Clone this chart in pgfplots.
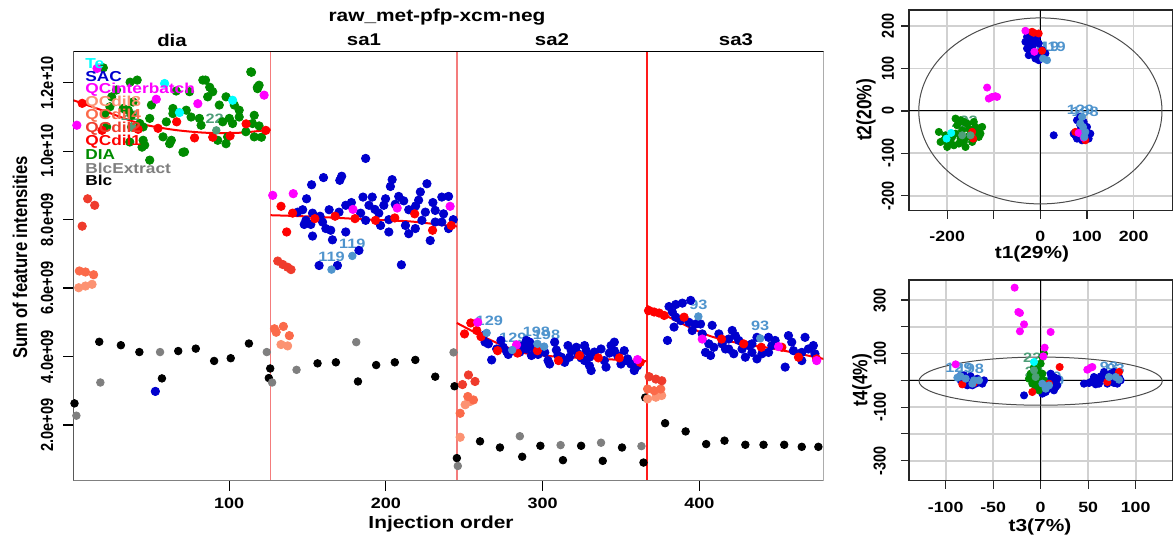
\documentclass[border=0pt]{standalone}
\usepackage{pgfplots}
\pgfplotsset{compat=1.18}
\usepackage{fontspec}
\setmainfont{Liberation Sans}
\definecolor{cTe}{HTML}{00FFFF}
\definecolor{cSAC}{HTML}{0000CD}
\definecolor{cQCi}{HTML}{FF00FF}
\definecolor{cQCe}{HTML}{FC9272}
\definecolor{cQCf}{HTML}{FB6A4A}
\definecolor{cQCb}{HTML}{EF3B2C}
\definecolor{cQCa}{HTML}{FF0000}
\definecolor{cDIA}{HTML}{008B00}
\definecolor{cBlcE}{HTML}{7F7F7F}
\definecolor{cLab}{HTML}{4F94CD}
\definecolor{cLabG}{HTML}{4E9E78}
\definecolor{cSep}{HTML}{F47C7C}
\definecolor{cSepB}{HTML}{FF1A1A}
\newcommand{\sx}[1]{\scalebox{1.2}[1]{#1}}
\newcommand{\sy}[1]{\scalebox{1}[1.2]{#1}}
\newcommand{\fs}[1]{\fontsize{#1}{#1}\selectfont\bfseries}
\pgfplotsset{
  pt/.style={only marks, mark=*, mark size=2.1pt, color=#1},
  ps/.style={only marks, mark=*, mark size=1.8pt, color=#1},
}
\begin{document}
\begin{tikzpicture}
\useasboundingbox (0,0) rectangle (587.5pt,269.5pt);
% ================= MAIN =================
\begin{axis}[at={(36.7pt,29.15pt)}, anchor=south west, scale only axis,
  width=375.15pt, height=214.5pt,
  xmin=0.6, xmax=479.4, ymin=0.37, ymax=12.91,
  axis line style={draw=none},
  tick pos=left, tick align=outside, major tick length=5pt,
  tick style={black, line width=0.6pt},
  xtick={100,200,300,400},
  xticklabels={\sx{100},\sx{200},\sx{300},\sx{400}},
  ytick={2,4,6,8,10,12},
  yticklabels={\sy{2.0e+09},\sy{4.0e+09},\sy{6.0e+09},\sy{8.0e+09},\sy{1.0e+10},\sy{1.2e+10}},
  xticklabel style={font=\fs{7.5}},
  yticklabel style={font=\fs{7.3}, rotate=90, anchor=south},
  yticklabel shift=1.5pt,
]
% separators (drawn first, under the points)
\addplot[color=cSep, line width=0.8pt] coordinates {(126.5,0.37)(126.5,12.91)};
\addplot[color=cSep, line width=0.8pt] coordinates {(245.3,0.37)(245.3,12.91)};
\addplot[color=cSepB, line width=1.1pt] coordinates {(366.4,0.37)(366.4,12.91)};
% Blc
\addplot[pt=black, mark size=1.9pt] coordinates {
(1.3,2.63)(17.1,4.43)(30.9,4.33)(42.7,4.13)(57.1,3.36)(67.5,4.16)(78.7,4.23)(90.4,3.87)(101,3.95)(112.6,4.38)(126.2,3.65)(125.3,3.37)
(156.4,3.80)(168.1,3.83)(182.2,3.27)(193.8,3.75)(205.7,3.83)(218.8,3.90)(231.5,3.41)(243.8,3.13)
(245.3,1.03)(260.1,1.52)(272.8,1.34)(287,1.07)(298.6,1.39)(313,0.97)(324.6,1.39)(338.4,0.95)(350.7,1.34)(364.4,0.90)(365.5,2.80)
(378.2,2.05)(391.3,1.81)(404.4,1.44)(416.1,1.54)(429.4,1.42)(441.0,1.42)(454.2,1.42)(465.4,1.36)(476,1.36)};
% BlcExtract
\addplot[pt=cBlcE, mark size=1.9pt] coordinates {
(2.5,2.27)(17.8,3.24)(55.9,4.13)(124,4.13)(127.4,3.24)(143,3.61)(181.1,4.42)(243.2,4.12)(245.9,0.80)(285.5,1.67)(311.5,1.41)(337.3,1.48)(363.1,1.38)};
% QCdil8
\addplot[pt=cQCe] coordinates {
(4.0,6.01)(8.3,6.06)(12.5,6.11)(133.1,4.35)(137.3,4.31)(250.6,2.59)(253.5,2.68)(247.4,1.64)(367,2.76)(372.3,2.81)(376,2.86)};
% QCdil4
\addplot[pt=cQCf] coordinates {
(4.4,6.50)(8.3,6.47)(13.5,6.39)(128.9,4.81)(130,4.71)(134.6,4.88)(138.4,4.61)(252.3,2.83)(255.9,2.73)(247.4,2.34)(367,3.05)(371.2,3.0)(375.4,3.05)};
% QCdil2
\addplot[pt=cQCb] coordinates {
(6.2,7.81)(9.7,8.61)(14.2,8.42)(131,6.79)(134.2,6.69)(137.3,6.61)(139.5,6.54)(252.7,3.46)(256.9,3.27)(248.9,3.18)(368,3.41)(372.3,3.34)(376.1,3.29)};
% DIA
\addplot[pt=cDIA] coordinates {
(19.7,12.44)(113.8,12.32)(84.9,12.08)(119.1,11.93)(118.1,11.83)(89.5,11.74)(86.3,11.59)(98.0,11.59)(66.2,11.76)(74.7,11.74)(28.1,11.79)(25.0,11.59)(38.7,11.44)(23.9,11.30)(50.4,11.35)(64.1,11.25)(72.6,11.20)(64.1,11.10)(75.7,11.00)(81.0,10.96)(93.7,11.35)(103.3,11.35)(106.4,11.20)(116.0,11.05)(106.4,11.00)(100.1,10.96)(49.3,10.96)(59.9,10.86)(37.7,11.05)(45.1,10.71)(37.7,10.71)(43.0,10.81)(82.1,10.76)(95.9,10.86)(102.2,10.81)(114.9,10.81)(119.1,10.74)(92.7,10.32)(98.0,10.22)(99.0,10.42)(57.8,10.42)(63.1,10.32)(62.0,10.22)(45.1,10.32)(46.1,10.18)(71.5,9.98)(49.3,9.74)(116.0,10.42)(110.7,10.57)(36.6,10.27)(21.8,10.71)(32.4,11.25)(20.7,11.10)(36.8,12.02)(41.3,12.08)(35.6,11.2)(83.2,12.08)(87.6,11.87)(70.5,9.97)(44.4,10.12)(114.3,12.31)(118,11.87)(120.6,10.41)};
% SAC
\addplot[pt=cSAC] coordinates {
(52.9,2.98)
(187.1,9.79)(160.2,9.23)(152.6,9.02)(171.8,9.27)(170.6,9.15)(204.0,9.17)(202.9,8.97)(226.2,9.05)(222.0,8.81)(149.4,8.61)(185.4,8.66)(191.3,8.66)(199.8,8.61)(208.2,8.68)(211.4,8.55)(220.9,8.57)(235.7,8.66)(240.0,8.68)(189.2,8.42)(198.7,8.42)(174.4,8.42)(163.8,8.29)(146.9,8.29)(143.7,8.22)(170.1,8.22)(183.9,8.19)(195.5,8.19)(214.6,8.29)(225.2,8.22)(231.5,8.27)(236.8,8.17)(153.2,8.19)(149.0,7.98)(147.9,7.86)(152.1,7.86)(159.6,7.93)(161.7,7.74)(164.8,7.69)(187.1,7.98)(196.6,7.83)(201.9,8.00)(212.5,7.83)(214.6,7.59)(218.8,7.74)(223.0,7.98)(231.5,7.93)(235.7,7.93)(240.0,7.74)(201.9,7.64)(174.4,7.64)(153.2,7.52)(165.9,7.41)(228.3,7.39)(182.8,7.10)(157.4,6.66)(169.1,6.66)(209.9,6.68)(178,8.5)(206,8.45)(230,8.5)(158,8.1)(243,8.0)(219,8.4)(193,8.3)
(262.2,4.61)(265.4,4.37)(263.3,4.42)(267.5,3.90)(270.7,4.22)(274.9,4.27)(278.1,4.06)(281.3,4.17)(285.5,4.13)(287.6,4.32)(289.7,4.47)(291.8,4.42)(294.0,4.27)(297.1,4.06)(301.4,4.12)(303.5,3.88)(304.5,3.78)(307.7,4.42)(308.8,4.19)(312.0,3.98)(316.2,4.32)(318.3,4.17)(321.5,4.27)(322.5,4.08)(326.8,4.32)(327.8,4.17)(329.9,3.73)(331.0,3.59)(333.1,4.13)(337.3,4.22)(339.4,3.88)(340.5,3.69)(343.7,4.32)(345.8,4.42)(347.9,4.03)(350.0,3.78)(352.1,4.17)(354.3,3.93)(356.4,3.78)(358.5,3.59)(360.6,3.73)(326.8,3.88)(314.1,3.83)(317.2,3.98)(345.8,4.17)(353.2,3.88)(273.4,4.47)(277.0,4.15)(292.9,4.03)(289.7,4.22)(309.8,4.03)(329.9,3.98)(342.6,4.10)(324.6,3.96)
(380.7,5.46)(385.0,5.52)(389.2,5.56)(394.5,5.64)(382.8,5.30)(385.0,5.15)(383.9,4.86)(388.1,5.05)(393.4,5.00)(397.7,4.95)(400.8,4.95)(379.7,4.47)(395.5,4.76)(401.9,4.66)(408.2,4.91)(412.5,4.66)(406.1,4.37)(409.3,4.27)(404.0,4.12)(407.2,4.03)(414.6,4.37)(418.8,4.51)(421.0,4.76)(423.0,4.61)(418.8,4.22)(422.0,4.08)(427.3,4.22)(431.5,4.32)(429.4,3.98)(433.6,4.12)(436.8,3.93)(440.0,4.08)(444.2,4.12)(446.3,4.32)(448.4,4.47)(456.9,4.61)(459.0,4.42)(467.5,4.56)(460.1,4.17)(465.4,4.12)(469.6,4.22)(472.8,4.32)(454.8,3.69)(465.4,3.88)(473.8,4.08)(416.7,4.22)(425.2,4.47)(433.6,4.37)(436.8,4.56)(444.2,4.56)};
% Te
\addplot[pt=cTe] coordinates {(58.8,11.98)(102.2,11.49)(68.3,11.13)};
% QCdil1
\addplot[pt=cQCa] coordinates {
(6.2,11.40)(18.9,10.61)(41.9,10.64)(54.6,10.67)(66.5,10.86)(77.9,10.39)(89.5,10.41)(100.6,10.45)(110.8,10.80)(123.4,10.61)
(133.1,8.39)(140.5,8.19)(136.7,7.64)(154.7,8.03)(167.6,8.10)(180.3,8.03)(193.4,7.98)(205.7,8.05)(218.4,8.17)(229.8,7.69)(241.7,7.83)
(254.2,4.98)(250.2,4.66)(258.0,4.76)(260.7,4.58)(271.3,4.17)(284.0,4.10)(296.7,4.17)(310.2,3.88)(323.6,4.03)(335.6,3.96)(349.0,3.96)(362.3,3.83)
(367.6,5.34)(371.2,5.30)(374.4,5.27)(377.6,5.20)(390.3,5.15)(414.2,4.51)(428.3,4.37)(439.6,4.27)(452.7,4.27)(463.3,3.98)(474.9,3.93)};
% QCinterbatch
\addplot[pt=cQCi] coordinates {
(2.8,10.76)(15.7,12.42)(53.5,11.52)(80.0,11.39)(122.3,11.64)(127.8,8.71)(140.9,8.76)(179.0,8.30)(207.2,8.34)(241.0,8.39)(258.6,5.0)(283.4,4.34)(360.6,3.91)(401.9,4.51)(450.6,4.29)(474.9,3.88)};
% labelled samples
\addplot[pt=cLab, mark size=1.9pt] coordinates {(178.6,6.94)(165.3,6.54)(264.3,4.69)(280.6,4.19)(296.7,4.37)(301,4.29)(399.4,5.17)(438.9,4.53)};
\addplot[pt=cLabG, mark size=1.9pt] coordinates {(91.8,10.61)(37.9,10.71)};
% loess fits
\addplot[red, line width=1pt, smooth] coordinates {(0.6,11.49)(21.8,11.15)(43,10.81)(64.1,10.63)(85.3,10.54)(106.4,10.54)(126.5,10.63)};
\addplot[red, line width=1pt, smooth] coordinates {(126.5,8.13)(146.9,8.10)(170,8.05)(190,8.0)(215,7.95)(235,7.85)(245.3,7.80)};
\addplot[red, line width=1pt, smooth] coordinates {(245.3,4.98)(265.4,4.51)(286.5,4.12)(307.7,4.0)(328.9,3.95)(350,3.9)(366.4,3.86)};
\addplot[red, line width=1pt, smooth] coordinates {(366.4,5.49)(385,5.05)(406.1,4.61)(427.3,4.37)(448.4,4.22)(479.4,3.93)};
% frame
\draw[black, line width=0.6pt] (rel axis cs:0,0) -- (rel axis cs:0,1) -- (rel axis cs:1,1);
\draw[gray, line width=0.7pt] (rel axis cs:0,0) -- (rel axis cs:1,0) -- (rel axis cs:1,1);
% labels
\begin{scope}[every node/.style={font=\fs{6.8}, inner sep=0pt}]
\node[text=cLab] at (axis cs:178.6,7.30) {\sx{119}};
\node[text=cLab] at (axis cs:165.3,6.91) {\sx{119}};
\node[text=cLab] at (axis cs:266,5.05) {\sx{129}};
\node[text=cLab] at (axis cs:281,4.54) {\sx{129}};
\node[text=cLab] at (axis cs:296.1,4.71) {\sx{198}};
\node[text=cLab] at (axis cs:302.5,4.64) {\sx{198}};
\node[text=cLab] at (axis cs:399.5,5.52) {\sx{93}};
\node[text=cLab] at (axis cs:438.9,4.89) {\sx{93}};
\node[text=cLabG] at (axis cs:90.8,10.96) {\sx{22}};
\node[text=cLabG] at (axis cs:36.8,11.05) {\sx{22}};
\end{scope}
\end{axis}
% main texts
\node[font=\fs{8.7}] at (218.5pt,261pt) {\sx{raw\_met-pfp-xcm-neg}};
\begin{scope}[every node/.style={font=\fs{8.5}}]
\node at (86pt,249.5pt) {\sx{dia}};
\node at (182pt,249.5pt) {\sx{sa1}};
\node at (276pt,249.5pt) {\sx{sa2}};
\node at (368pt,249.5pt) {\sx{sa3}};
\end{scope}
\node[font=\fs{8.7}] at (220.5pt,7.5pt) {\sx{Injection order}};
\node[font=\fs{8.3}, rotate=90] at (10pt,140.75pt) {\sy{Sum of feature intensities}};
% legend
\begin{scope}[every node/.style={font=\fs{7.2}, anchor=west, inner sep=0pt}]
\node[text=cTe] at (42.5pt,237.5pt) {\sx{Te}};
\node[text=cSAC] at (42.5pt,231pt) {\sx{SAC}};
\node[text=cQCi] at (42.5pt,224.5pt) {\sx{QCinterbatch}};
\node[text=cQCe] at (42.5pt,218pt) {\sx{QCdil8}};
\node[text=cQCf] at (42.5pt,211.5pt) {\sx{QCdil4}};
\node[text=cQCb] at (42.5pt,205.2pt) {\sx{QCdil2}};
\node[text=cQCa] at (42.5pt,198.5pt) {\sx{QCdil1}};
\node[text=cDIA] at (42.5pt,192.3pt) {\sx{DIA}};
\node[text=cBlcE] at (42.5pt,185.5pt) {\sx{BlcExtract}};
\node[text=black] at (42.5pt,179.5pt) {\sx{Blc}};
\end{scope}
% ================= PCA t1/t2 =================
\begin{axis}[at={(454.5pt,164.15pt)}, anchor=south west, scale only axis,
  width=131.85pt, height=100.35pt,
  xmin=-282, xmax=284, ymin=-235, ymax=237.7,
  axis line style={black!85, line width=0.6pt},
  tick pos=left, tick align=outside, major tick length=4pt,
  tick style={black!85, line width=0.6pt},
  xtick={-200,-100,0,100,200}, ytick={-200,-100,0,100,200},
  xticklabels={\sx{-200},,\sx{0},\sx{100},\sx{200}},
  yticklabels={\sy{-200},\sy{-100},\sy{0},\sy{100},\sy{200}},
  xticklabel style={font=\fs{7.4}}, xticklabel shift=2.5pt,
  yticklabel style={font=\fs{7.2}, rotate=90, anchor=south}, yticklabel shift=0pt,
  grid=major, grid style={black!18, line width=0.9pt},
]
\draw[black, line width=0.5pt] (axis cs:0,-235) -- (axis cs:0,237.7);
\draw[black, line width=0.5pt] (axis cs:-282,0) -- (axis cs:284,0);
\draw[black!70, line width=0.5pt] (axis cs:0,0) ellipse [x radius=261, y radius=219];
\addplot[ps=cDIA] coordinates {
(-217.9,-49.5)(-207.1,-69.2)(-196.4,-77.0)(-200,-84.9)(-189.3,-61.3)(-182.1,-53.5)(-171.4,-65.3)(-164.3,-73.1)(-157.1,-61.3)(-150,-53.5)(-142.9,-65.3)(-135.7,-49.5)(-128.6,-53.5)(-125,-37.7)(-139.3,-37.7)(-153.6,-41.7)(-167.9,-45.6)(-178.6,-33.8)(-171.4,-22.0)(-182.1,-18.1)(-164.3,-25.9)(-192.9,-69.2)(-185.7,-81.0)(-175,-77.0)(-160.7,-84.9)(-146.4,-73.1)(-132.1,-61.3)(-214.3,-73.1)(-203.6,-57.4)(-157.1,-29.9)(-142.9,-25.9)};
\addplot[ps=cTe] coordinates {(-201.4,-65.3)(-191.4,-51.9)};
\addplot[ps=cSAC] coordinates {
(-28.6,174.5)(-21.4,178.5)(-14.3,170.6)(-32.1,162.7)(-25.0,158.8)(-17.9,150.9)(-10.7,162.7)(-3.6,158.8)(-28.6,147.0)(-21.4,139.2)(-14.3,135.2)(-7.1,131.3)(0,127.4)(7.1,131.3)(-10.7,123.4)(-3.6,119.5)(3.6,143.1)(10.7,135.2)(-25.0,131.3)(-17.9,166.7)(-7.1,174.5)
(78.6,-22.0)(85.7,-33.8)(92.9,-45.6)(82.1,-49.5)(75.0,-57.4)(85.7,-61.3)(96.4,-57.4)(103.6,-65.3)(107.1,-53.5)(89.3,-69.2)(78.6,-65.3)(100,-37.7)(92.9,-25.9)(85.7,-14.2)(71.4,-53.5)(28.6,-57.4)};
\addplot[ps=cQCa] coordinates {(-17.9,186.3)(-3.6,182.4)(3.6,141.5)(-14.3,184.0)(96.4,-69.2)(85.7,-51.9)(75,-49.5)(-146.4,-49.5)(-144.3,-65.3)};
\addplot[ps=cQCi] coordinates {(-32.1,188.7)(-12.9,139.2)(82.1,-51.9)(92.9,-62.9)(-114.3,55.0)(-110.7,29.1)(-103.6,33.0)(-96.4,34.6)(-92.9,33.0)};
\addplot[ps=cLab] coordinates {(5.7,123.4)(14.3,119.5)(85.7,-29.9)(91.4,-37.7)(96.4,-49.5)(94.3,-61.3)(89.3,-14.2)};
\addplot[ps=cLabG] coordinates {(-167.9,-57.4)(-150,-57.4)};
\begin{scope}[every node/.style={font=\fs{6.8}, inner sep=0pt}]
\node[text=cLab] at (axis cs:12,150) {\sx{119}};
\node[text=cLab] at (axis cs:26,150) {\sx{119}};
\node[text=cLab] at (axis cs:86,1.6) {\sx{129}};
\node[text=cLab] at (axis cs:96,-2.4) {\sx{198}};
\node[text=cLabG] at (axis cs:-171,-28) {\sx{22}};
\node[text=cLabG] at (axis cs:-154,-23) {\sx{22}};
\end{scope}
\end{axis}
\node[font=\fs{8.7}] at (516pt,142.5pt) {\sx{t1(29\%)}};
\node[font=\fs{8.7}, rotate=90] at (433pt,214.5pt) {\sy{t2(20\%)}};
% ================= PCA t3/t4 =================
\begin{axis}[at={(454.5pt,29.15pt)}, anchor=south west, scale only axis,
  width=131.85pt, height=100.35pt,
  xmin=-138.6, xmax=139, ymin=-375, ymax=375,
  axis line style={black!85, line width=0.6pt},
  tick pos=left, tick align=outside, major tick length=4pt,
  tick style={black!85, line width=0.6pt},
  xtick={-100,-50,0,50,100}, ytick={-300,-200,-100,0,100,200,300},
  xticklabels={\sx{-100},\sx{-50},\sx{0},\sx{50},\sx{100}},
  yticklabels={\sy{-300},,\sy{-100},,\sy{100},,\sy{300}},
  xticklabel style={font=\fs{7.4}}, xticklabel shift=3pt,
  yticklabel style={font=\fs{7.2}, rotate=90, anchor=south}, yticklabel shift=4pt,
  grid=major, grid style={black!18, line width=0.9pt},
]
\draw[black, line width=0.5pt] (axis cs:0,-375) -- (axis cs:0,375);
\draw[black, line width=0.5pt] (axis cs:-138.6,0) -- (axis cs:139,0);
\draw[black!70, line width=0.5pt] (axis cs:0,-3) ellipse [x radius=128, y radius=90];
\addplot[ps=cSAC] coordinates {
(-86.0,12.5)(-82.5,0)(-78.9,-6.2)(-75.4,-12.5)(-71.9,-18.7)(-68.4,-12.5)(-64.9,-6.2)(-61.4,-12.5)(-59.6,0)(-66.7,6.2)(-73.7,15.0)(-80.7,18.7)(-84.2,0)(-77.2,-18.7)
(45.6,-12.5)(52.6,-6.2)(56.1,12.5)(59.6,0)(61.4,-12.5)(64.9,6.2)(68.4,12.5)(71.9,0)(75.4,15.0)(78.9,6.2)(82.5,12.5)(84.2,0)(80.7,-12.5)(77.2,-10.0)(70.2,-12.5)(63.2,15.0)(57.9,-15.0)(50.9,-10.0)(73.7,24.9)(66.7,31.2)(77.2,31.2)
(10.5,24.9)(14.0,12.5)(17.5,6.2)(12.3,-12.5)(15.8,-24.9)(8.8,-31.2)(5.3,-43.6)(1.8,-49.8)(14.0,-37.4)(17.5,-18.7)(10.5,0)(-17.5,-56.1)};
\addplot[ps=cDIA] coordinates {
(-7.0,49.8)(-3.5,37.4)(-5.3,18.7)(-1.8,12.5)(-7.0,0)(-3.5,-12.5)(0,-18.7)(-5.3,-31.2)(-1.8,-37.4)(1.8,24.9)(1.8,87.2)(3.5,99.7)(0,62.3)(-10.5,24.9)(-8.8,-12.5)(-12.3,6.2)(3.5,0)};
\addplot[ps=cTe] coordinates {(-7.0,68.5)};
\addplot[ps=cQCa] coordinates {(-82.5,-15.0)(-70.2,-10.0)(70.2,-6.2)(82.5,31.2)(20.0,49.8)(-8.8,-43.6)(8.8,-12.5)};
\addplot[ps=cQCi] coordinates {(-89.5,59.8)(49.1,39.9)(52.6,47.4)(54.4,49.8)(-27.4,346.4)(-23.5,255.5)(-21.8,251.7)(-17.5,209.3)(-21.8,183.2)(10.5,180.7)(4.2,122.1)(2.8,89.7)};
\addplot[ps=cLab] coordinates {(-87.7,10.0)(-84.2,15.0)(-78.9,6.2)(-70.2,0)(-71.9,-12.5)(-64.9,0)(78.9,12.5)(82.5,2.5)(71.9,12.5)(5.3,-31.2)(8.8,-18.7)(1.8,-12.5)};
\addplot[ps=cLabG] coordinates {(-7,37.4)(-5.3,12.5)};
\begin{scope}[every node/.style={font=\fs{6.8}, inner sep=0pt}]
\node[text=cLab] at (axis cs:-86,47) {\sx{129}};
\node[text=cLab] at (axis cs:-74,44) {\sx{198}};
\node[text=cLab] at (axis cs:72,50) {\sx{93}};
\node[text=cLab] at (axis cs:79,44) {\sx{93}};
\node[text=cLab] at (axis cs:8,13) {\sx{119}};
\node[text=cLab] at (axis cs:11,0) {\sx{119}};
\node[text=cLabG] at (axis cs:-8.8,85) {\sx{22}};
\node[text=cLabG] at (axis cs:-7,31) {\sx{22}};
\end{scope}
\end{axis}
\node[font=\fs{8.7}] at (520pt,6.15pt) {\sx{t3(7\%)}};
\node[font=\fs{8.7}, rotate=90] at (431pt,79.5pt) {\sy{t4(4\%)}};
\end{tikzpicture}
\end{document}
